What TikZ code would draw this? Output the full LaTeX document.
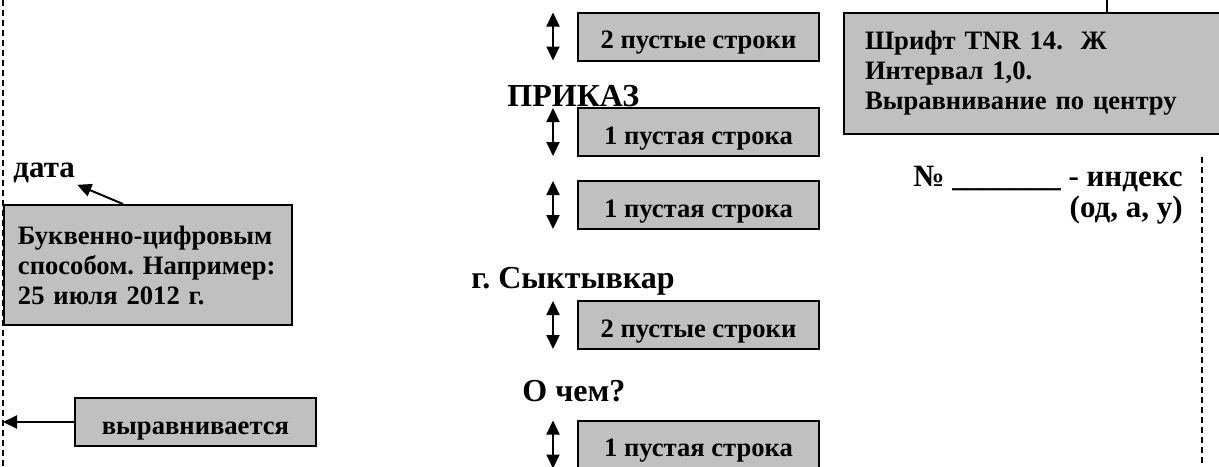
\documentclass[tikz,border=0pt]{standalone}
\usepackage{fontspec}
\setmainfont{Liberation Serif}
\usetikzlibrary{arrows.meta}
\definecolor{boxgray}{HTML}{C0C0C0}
\frenchspacing

\begin{document}
\begin{tikzpicture}[
  x=0.5pt, y=-0.5pt,
  lbl/.style={font=\bfseries\fontsize{15.5}{15.5}\selectfont, inner sep=1pt},
  big/.style={font=\bfseries\fontsize{16}{19}\selectfont, inner sep=0pt, anchor=base west},
  box/.style={draw, line width=1pt, fill=boxgray, font=\bfseries\fontsize{13.3}{15}\selectfont,
    inner xsep=0pt, inner ysep=0pt, text height=18pt, text depth=6pt, minimum width=120.5pt},
  note/.style={draw, line width=1pt, fill=boxgray, align=left, inner ysep=0pt,
    font=\bfseries\fontsize{13.3}{15}\selectfont},
  vspan/.style={{Triangle[length=7pt,width=6.5pt]}-{Triangle[length=7pt,width=6.5pt]}, line width=1pt},
  arrow/.style={-{Triangle[length=7pt,width=6.5pt]}, line width=1pt},
  margin/.style={line width=1pt, dash pattern=on 3pt off 2pt}
]
\clip (0,0) rectangle (1219,466);

% margins of the page
\coordinate (lefttop) at (3,0);
\coordinate (leftbot) at (3,466);
\coordinate (righttop) at (1202,157);
\coordinate (rightbot) at (1202,466);
\draw[margin] (lefttop) -- (leftbot);
\draw[margin] (righttop) -- (rightbot);

% headings of the order
\node[big] (prikaz) at (507,106) {ПРИКАЗ};
\node[big] (city) at (471,288) {г. Сыктывкар};
\node[big] (about) at (522,401) {О чем?};
\node[lbl, anchor=base west] (date) at (11,177) {дата};
\node[lbl, align=right, anchor=north east] (numidx) at (1185,164)
  {№ \_\_\_\_\_\_\_ - индекс~\\ (од, а, у)};

% blank line boxes
\node[box] (blankA) at (698.5,36.5) {2 пустые строки};
\node[box] (blankB) at (698.5,132) {1 пустая строка};
\node[box] (blankC) at (698.5,205) {1 пустая строка};
\node[box] (blankD) at (698.5,325) {2 пустые строки};
\node[box] (blankE) at (698.5,444.5) {1 пустая строка};
\foreach \b in {blankA,blankB,blankC,blankD,blankE}
  \draw[vspan] ([xshift=-12pt,yshift=-0.5pt]\b.north west) -- ([xshift=-12pt,yshift=0.5pt]\b.south west);

% comment boxes
\node[note, anchor=north west, text width=172.5pt, inner xsep=10.5pt, minimum height=60.5pt] (fmtbox) at (843,12)
  {Шрифт TNR 14.~ Ж\\Интервал 1,0.\\Выравнивание по центру};
\coordinate (fmttop) at (1107,0);
\draw[line width=1pt] (fmttop) -- (fmttop |- fmtbox.north);

\node[note, anchor=north west, text width=130pt, inner xsep=7pt, minimum height=60pt] (datebox) at (3,204)
  {Буквенно-цифровым\\способом. Например:\\25 июля 2012 г.};
\draw[arrow] ([xshift=60pt]datebox.north west) -- (date.south east);

\node[box, anchor=north west] (alignbox) at (74,397) {выравнивается};
\draw[arrow] (alignbox.west) -- (alignbox.west -| leftbot);

\end{tikzpicture}
\end{document}
